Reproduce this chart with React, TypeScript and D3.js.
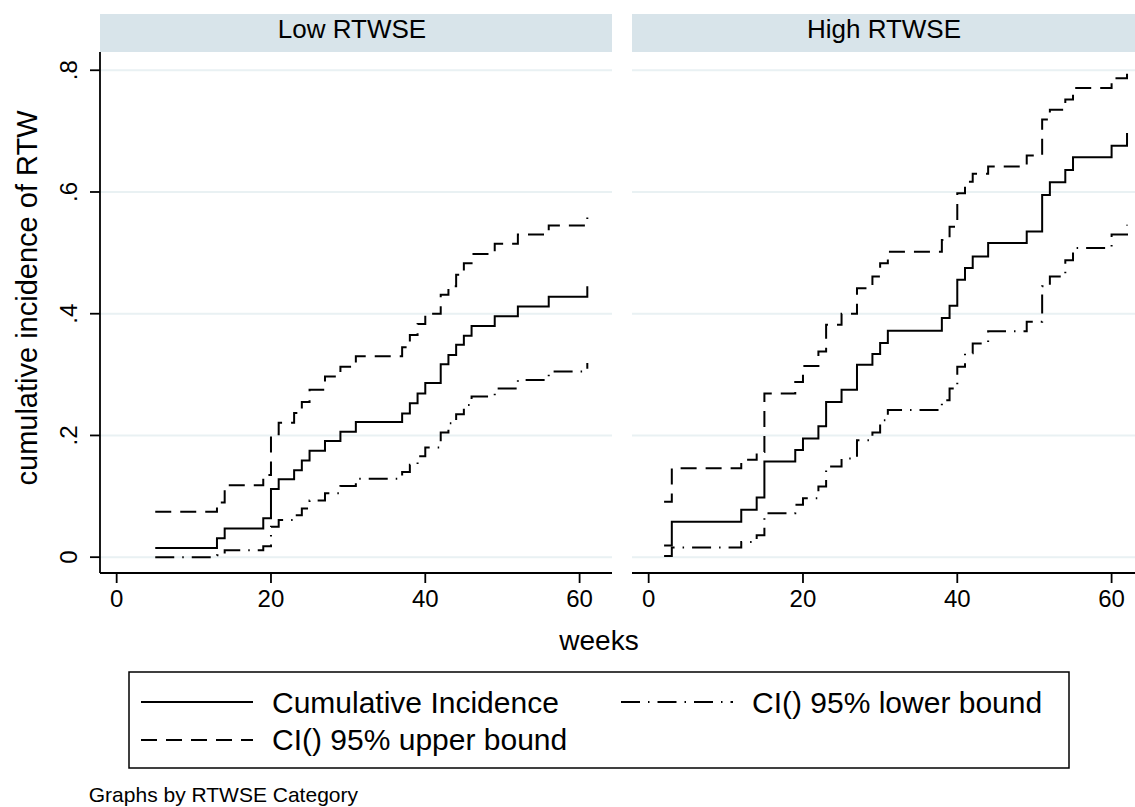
import React from 'react';
import * as d3 from 'd3';

// panel titles and axis ticks
const panels = ['Low RTWSE', 'High RTWSE'];
const xTicks = [0, 20, 40, 60];
const yTicks = [0, 0.2, 0.4, 0.6, 0.8];
const yTickLabels = ['0', '.2', '.4', '.6', '.8'];

// Low RTWSE: cumulative incidence and 95% bounds by week
const lowWeeks = [5, 13, 14, 19, 20, 21, 23, 24, 25, 27, 29, 31, 37, 38, 39, 40, 42, 43, 44, 45, 46, 49, 52, 56, 61];
const lowCif = [0.015, 0.031, 0.047, 0.064, 0.112, 0.128, 0.143, 0.159, 0.175, 0.191, 0.206, 0.222, 0.236, 0.253, 0.269, 0.286, 0.317, 0.332, 0.349, 0.364, 0.38, 0.396, 0.412, 0.428, 0.445];
const lowUpper = [0.0745, 0.09, 0.118, 0.135, 0.202, 0.221, 0.237, 0.255, 0.275, 0.297, 0.313, 0.33, 0.345, 0.365, 0.383, 0.4, 0.431, 0.445, 0.464, 0.483, 0.498, 0.515, 0.53, 0.545, 0.558];
const lowLower = [0.0, 0.003, 0.0115, 0.018, 0.05, 0.061, 0.069, 0.08, 0.093, 0.105, 0.117, 0.129, 0.14, 0.152, 0.166, 0.18, 0.205, 0.22, 0.235, 0.25, 0.264, 0.277, 0.291, 0.305, 0.319];

// High RTWSE
const highWeeks = [2, 3, 12, 14, 15, 19, 20, 22, 23, 25, 27, 29, 30, 31, 38, 39, 40, 41, 42, 44, 49, 51, 52, 54, 55, 60, 62];
const highCif = [0.019, 0.058, 0.078, 0.098, 0.157, 0.176, 0.195, 0.215, 0.255, 0.275, 0.316, 0.334, 0.352, 0.372, 0.393, 0.413, 0.456, 0.475, 0.494, 0.516, 0.535, 0.595, 0.616, 0.636, 0.657, 0.676, 0.697];
const highUpper = [0.091, 0.146, 0.16, 0.173, 0.269, 0.288, 0.314, 0.338, 0.382, 0.4, 0.442, 0.461, 0.483, 0.502, 0.521, 0.543, 0.598, 0.617, 0.63, 0.642, 0.66, 0.719, 0.735, 0.752, 0.771, 0.787, 0.804];
const highLower = [0.002, 0.016, 0.025, 0.036, 0.072, 0.086, 0.097, 0.116, 0.149, 0.162, 0.192, 0.205, 0.225, 0.242, 0.258, 0.277, 0.313, 0.335, 0.351, 0.371, 0.387, 0.445, 0.461, 0.488, 0.508, 0.53, 0.546];

const legendLabels = ['Cumulative Incidence', 'CI() 95% lower bound', 'CI() 95% upper bound'];

const font = '"Liberation Sans", Arial, Helvetica, sans-serif';
const W = 1135;
const H = 807;
const panelW = 512;
const panelLeft = [100, 632];
const top = 52;
const bottom = 573;
const gridColor = '#e9f1f3';
const stripColor = '#d8e4ea';
const dashed = '16,9';
const dashDot = '19,8,1.5,8';

const yScale = d3.scaleLinear().domain([-0.026, 0.83]).range([bottom, top]);

function Panel({ idx, weeks, cif, upper, lower }) {
  const x0 = panelLeft[idx];
  const xScale = d3.scaleLinear().domain([-2.16, 64.2]).range([x0, x0 + panelW]);
  const line = d3
    .line<number>()
    .x((_, i) => xScale(weeks[i]))
    .y((d) => yScale(d))
    .curve(d3.curveStepAfter);

  return (
    <g>
      <rect x={x0} y={14} width={panelW} height={top - 14} fill={stripColor} />
      <text x={x0 + panelW / 2 - 4} y={37.5} textAnchor="middle" fontSize={26} fontFamily={font}>
        {panels[idx]}
      </text>
      {yTicks.map((t) => (
        <line key={t} x1={x0} x2={x0 + panelW} y1={yScale(t)} y2={yScale(t)} stroke={gridColor} strokeWidth={2} />
      ))}
      <path d={line(upper) || ''} fill="none" stroke="#000" strokeWidth={2} strokeDasharray={dashed} />
      <path d={line(lower) || ''} fill="none" stroke="#000" strokeWidth={2} strokeDasharray={dashDot} />
      <path d={line(cif) || ''} fill="none" stroke="#000" strokeWidth={2} />
      <line x1={x0} x2={x0 + panelW} y1={bottom} y2={bottom} stroke="#000" strokeWidth={1.8} />
      {xTicks.map((t) => (
        <g key={t}>
          <line x1={xScale(t)} x2={xScale(t)} y1={bottom} y2={bottom + 10} stroke="#000" strokeWidth={1.8} />
          <text x={xScale(t)} y={607} textAnchor="middle" fontSize={24} fontFamily={font}>
            {t}
          </text>
        </g>
      ))}
      {idx === 0 && (
        <g>
          <line x1={x0} x2={x0} y1={top} y2={bottom} stroke="#000" strokeWidth={1.8} />
          {yTicks.map((t, i) => (
            <g key={t}>
              <line x1={x0 - 10} x2={x0} y1={yScale(t)} y2={yScale(t)} stroke="#000" strokeWidth={1.8} />
              <text
                transform={`translate(77,${yScale(t)}) rotate(-90)`}
                textAnchor="middle"
                fontSize={24}
                fontFamily={font}
              >
                {yTickLabels[i]}
              </text>
            </g>
          ))}
        </g>
      )}
    </g>
  );
}

function LegendKey({ x, y, dash }) {
  return <line x1={x} x2={x + 112} y1={y} y2={y} stroke="#000" strokeWidth={2} strokeDasharray={dash} />;
}

export default function App() {
  return (
    <svg width={W} height={H} style={{ position: 'absolute', left: 0, top: 0, background: '#fff' }}>
      <rect x={0} y={0} width={W} height={H} fill="#fff" />
      <Panel idx={0} weeks={lowWeeks} cif={lowCif} upper={lowUpper} lower={lowLower} />
      <Panel idx={1} weeks={highWeeks} cif={highCif} upper={highUpper} lower={highLower} />

      <text transform="translate(37,298) rotate(-90)" textAnchor="middle" fontSize={29} fontFamily={font}>
        cumulative incidence of RTW
      </text>
      <text x={599} y={650} textAnchor="middle" fontSize={28} fontFamily={font}>
        weeks
      </text>

      <rect x={129} y={672} width={940} height={96} fill="#fff" stroke="#000" strokeWidth={1.5} />
      <LegendKey x={141} y={702} dash={null} />
      <text x={272} y={713} fontSize={30} fontFamily={font}>
        {legendLabels[0]}
      </text>
      <LegendKey x={621} y={702} dash={dashDot} />
      <text x={752} y={713} fontSize={30} fontFamily={font}>
        {legendLabels[1]}
      </text>
      <LegendKey x={141} y={740} dash={dashed} />
      <text x={272} y={750} fontSize={30} fontFamily={font}>
        {legendLabels[2]}
      </text>

      <text x={358} y={802} textAnchor="end" fontSize={21} fontFamily={font}>
        Graphs by RTWSE Category
      </text>
    </svg>
  );
}
